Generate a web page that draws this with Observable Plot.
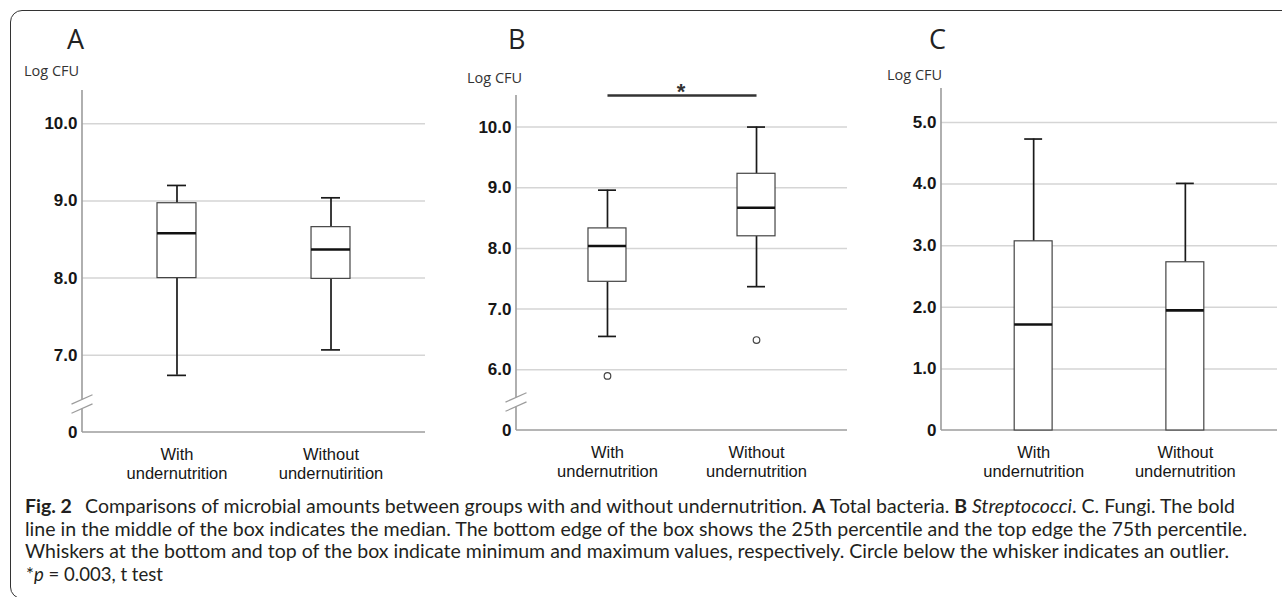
<!DOCTYPE html>
<html>
<head>
<meta charset="utf-8">
<script src="https://cdn.jsdelivr.net/npm/d3@7"></script>
<script src="https://cdn.jsdelivr.net/npm/@observablehq/plot@0.6"></script>
<style>
html, body { margin: 0; padding: 0; background: #fff; overflow: hidden; width: 1282px; height: 597px; }
#root { position: relative; width: 1282px; height: 597px; overflow: hidden; }
#frame { position: absolute; left: 10px; top: 10px; width: 1320px; height: 589px; border: 1.2px solid #333; border-radius: 12px; box-sizing: border-box; }
.panel { position: absolute; top: 0; }
#overlay { position: absolute; left: 0; top: 0; pointer-events: none; }
</style>
</head>
<body>
<div id="root">
  <div id="frame"></div>
  <div id="panelA" class="panel" style="left:0px"></div>
  <div id="panelB" class="panel" style="left:430px"></div>
  <div id="panelC" class="panel" style="left:850px"></div>
  <svg id="overlay" width="1282" height="597" xmlns="http://www.w3.org/2000/svg">
    <g font-family="'Open Sans', sans-serif" fill="#222">
      <text x="67" y="49" font-size="27">A</text>
      <text x="508" y="49" font-size="27">B</text>
      <text x="929" y="49" font-size="27">C</text>
      <text x="24" y="76" font-size="14.5" fill="#333">Log CFU</text>
      <text x="467" y="83" font-size="14.5" fill="#333">Log CFU</text>
      <text x="887" y="80" font-size="14.5" fill="#333">Log CFU</text>
    </g>
    <g font-family="Lato, 'Open Sans', sans-serif" font-size="19" fill="#231f20" style="white-space:pre">
      <text x="25" y="513" textLength="1210" lengthAdjust="spacingAndGlyphs"><tspan font-weight="bold">Fig. 2</tspan><tspan dx="8">  Comparisons of microbial amounts between groups with and without undernutrition. </tspan><tspan font-weight="bold">A</tspan><tspan> Total bacteria. </tspan><tspan font-weight="bold">B</tspan><tspan> </tspan><tspan font-style="italic">Streptococci</tspan><tspan>. C. Fungi. The bold</tspan></text>
      <text x="25" y="536" textLength="1222" lengthAdjust="spacingAndGlyphs">line in the middle of the box indicates the median. The bottom edge of the box shows the 25th percentile and the top edge the 75th percentile.</text>
      <text x="25" y="558" textLength="1204" lengthAdjust="spacingAndGlyphs">Whiskers at the bottom and top of the box indicate minimum and maximum values, respectively. Circle below the whisker indicates an outlier.</text>
      <text x="26" y="581" textLength="137" lengthAdjust="spacingAndGlyphs"><tspan>*</tspan><tspan font-style="italic">p</tspan><tspan> = 0.003, t test</tspan></text>
    </g>
  </svg>
</div>
<script>
// ---------- data ----------
const groupsA  = ["With\nundernutrition", "Without\nundernutirition"];
const groupsBC = ["With\nundernutrition", "Without\nundernutrition"];

// A: Total bacteria
const minA = [6.74, 7.07];
const q1A  = [8.00, 7.99];
const medA = [8.58, 8.37];
const q3A  = [8.97, 8.66];
const maxA = [9.20, 9.04];

// B: Streptococci
const minB = [6.55, 7.37];
const q1B  = [7.45, 8.20];
const medB = [8.04, 8.67];
const q3B  = [8.33, 9.23];
const maxB = [8.96, 10.00];
const outlierGroupB = [0, 1];
const outlierValueB = [5.90, 6.49];

// C: Fungi
const minC = [0, 0];
const q1C  = [0, 0];
const medC = [1.72, 1.95];
const q3C  = [3.07, 2.73];
const maxC = [4.73, 4.01];

// axes (broken axes in A and B: bottom value is labelled "0")
const ticksA = [6, 7, 8, 9, 10];
const tickLabelsA = ["0", "7.0", "8.0", "9.0", "10.0"];
const ticksB = [5, 6, 7, 8, 9, 10];
const tickLabelsB = ["0", "6.0", "7.0", "8.0", "9.0", "10.0"];
const ticksC = [0, 1, 2, 3, 4, 5];
const tickLabelsC = ["0", "1.0", "2.0", "3.0", "4.0", "5.0"];
const domainA = [6, 10.43];
const domainB = [5, 10.52];
const domainC = [0, 5.55];

// significance bracket in B (p = 0.003)
const sigFromB = 0, sigToB = 1, sigLevelB = 10.52;

// ---------- drawing ----------
function axisFrame(showBreak) {
  return (index, scales, values, dims) => {
    const x0 = dims.marginLeft;
    const x1 = dims.width - dims.marginRight;
    const yTop = dims.marginTop;
    const yBot = dims.height - dims.marginBottom;
    const g = d3.create("svg:g").attr("fill", "none");
    g.append("line").attr("x1", x0).attr("x2", x1).attr("y1", yBot).attr("y2", yBot)
      .attr("stroke", "#9c9c9c").attr("stroke-width", 1.6);
    g.append("line").attr("x1", x0).attr("x2", x0).attr("y1", yTop).attr("y2", yBot)
      .attr("stroke", "#9c9c9c").attr("stroke-width", 1.6);
    if (showBreak) {
      const yc = yBot - 28, h = 4.6;
      g.append("rect").attr("x", x0 - 2).attr("width", 4).attr("y", yc - h).attr("height", 2 * h)
        .attr("fill", "#fff");
      for (const o of [-h, h]) {
        g.append("line").attr("x1", x0 - 10.5).attr("x2", x0 + 10.5)
          .attr("y1", yc + o + 4.7).attr("y2", yc + o - 4.7)
          .attr("stroke", "#9c9c9c").attr("stroke-width", 1.2);
      }
    }
    return g.node();
  };
}

function boxPanel(cfg) {
  const rows = cfg.groups.map((g, i) => ({
    g, min: cfg.min[i], q1: cfg.q1[i], med: cfg.med[i], q3: cfg.q3[i], max: cfg.max[i]
  }));
  const outs = (cfg.outG || []).map((gi, i) => ({g: cfg.groups[gi], v: cfg.outV[i]}));
  const labelMap = new Map(cfg.ticks.map((t, i) => [t, cfg.tickLabels[i]]));
  const grid = cfg.ticks.slice(1);
  const marks = [
    Plot.ruleY(grid, {stroke: "#d5d5d5", strokeWidth: 1.5}),
    axisFrame(cfg.broken),
    Plot.ruleX(rows, {x: "g", y1: "min", y2: "q1", stroke: "#1a1a1a", strokeWidth: 1.7}),
    Plot.ruleX(rows, {x: "g", y1: "q3", y2: "max", stroke: "#1a1a1a", strokeWidth: 1.7}),
    Plot.barY(rows, {x: "g", y1: "q1", y2: "q3", fill: "white", stroke: "#444", strokeWidth: 1.2}),
    Plot.tickY(rows, {x: "g", y: "med", stroke: "#111", strokeWidth: 2.6}),
    Plot.tickY(rows, {x: "g", y: "max", stroke: "#1a1a1a", strokeWidth: 1.7, insetLeft: 10, insetRight: 10}),
    Plot.tickY(rows.filter(d => d.min > cfg.domain[0]), {x: "g", y: "min", stroke: "#1a1a1a", strokeWidth: 1.7, insetLeft: 10, insetRight: 10}),
    Plot.dot(outs, {x: "g", y: "v", r: 3.3, stroke: "#444", fill: "white", strokeWidth: 1.2}),
    Plot.axisY(cfg.ticks, {tickSize: 0, tickPadding: 5, fontSize: 17, fontWeight: "bold", label: null,
      tickFormat: d => labelMap.get(d)}),
    Plot.axisX({tickSize: 0, tickPadding: 13, fontSize: 16.5, lineHeight: 1.2, label: null,
      stroke: "#161616", strokeWidth: 0.5})
  ];
  if (cfg.sig) {
    marks.push(Plot.link([cfg.sig], {
      x1: d => cfg.groups[d.from], x2: d => cfg.groups[d.to], y1: "level", y2: "level",
      stroke: "#333", strokeWidth: 2.6
    }));
    marks.push(Plot.text(["*"], {frameAnchor: "top", dx: -1, dy: -12, fontSize: 22, fontWeight: "bold", fill: "#333"}));
  }
  return Plot.plot({
    width: cfg.width, height: 500,
    marginLeft: cfg.marginLeft, marginRight: cfg.marginRight,
    marginTop: cfg.marginTop, marginBottom: 500 - cfg.bottom,
    style: {fontFamily: "'Liberation Sans', Arial, sans-serif", color: "#161616", background: "transparent", overflow: "visible"},
    x: {type: "band", domain: cfg.groups, paddingInner: cfg.pi, paddingOuter: cfg.po, align: 0.5, round: false},
    y: {domain: cfg.domain},
    marks
  });
}

document.getElementById("panelA").append(boxPanel({
  groups: groupsA, min: minA, q1: q1A, med: medA, q3: q3A, max: maxA,
  ticks: ticksA, tickLabels: tickLabelsA, domain: domainA, broken: true,
  width: 430, marginLeft: 82, marginRight: 5, marginTop: 90, bottom: 432, pi: 0.747, po: 0.487
}));

document.getElementById("panelB").append(boxPanel({
  groups: groupsBC, min: minB, q1: q1B, med: medB, q3: q3B, max: maxB,
  outG: outlierGroupB, outV: outlierValueB,
  ticks: ticksB, tickLabels: tickLabelsB, domain: domainB, broken: true,
  sig: {from: sigFromB, to: sigToB, level: sigLevelB},
  width: 420, marginLeft: 86, marginRight: 3, marginTop: 95, bottom: 430, pi: 0.745, po: 0.483
}));

document.getElementById("panelC").append(boxPanel({
  groups: groupsBC, min: minC, q1: q1C, med: medC, q3: q3C, max: maxC,
  ticks: ticksC, tickLabels: tickLabelsC, domain: domainC, broken: false,
  width: 432, marginLeft: 91, marginRight: 5, marginTop: 88, bottom: 430, pi: 0.75, po: 0.4825
}));
</script>
</body>
</html>
